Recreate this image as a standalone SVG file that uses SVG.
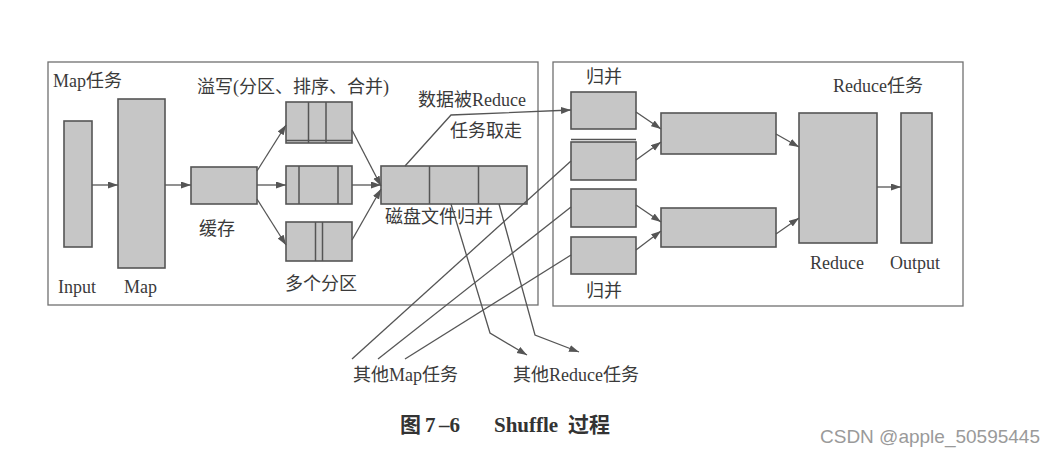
<svg xmlns="http://www.w3.org/2000/svg" width="1063" height="460" viewBox="0 0 1063 460">
<style>
.frame{fill:none;stroke:#707070;stroke-width:1.3}
.box{fill:#c6c6c6;stroke:#555;stroke-width:1.6}
.div{stroke:#555;stroke-width:1.5}
.c{fill:none;stroke:#555;stroke-width:1.3}
.a{marker-end:url(#ah)}
text{font-family:"Liberation Serif","Noto Sans CJK SC",serif;font-size:18px;fill:#3a3a3a}
.cap{font-weight:bold;font-size:21px;fill:#333}
.wm{font-family:"Liberation Sans",Arial,sans-serif;font-size:19px;fill:#9a9a9a}
</style>
<defs>
<marker id="ah" markerUnits="userSpaceOnUse" markerWidth="11" markerHeight="8" refX="10" refY="3.5" orient="auto">
<path d="M0,0 L10,3.5 L0,7 z" fill="#555"/>
</marker>
</defs>
<rect width="1063" height="460" fill="#fff"/>

<g id="map-task">
<rect class="frame" x="48" y="62" width="490" height="243"/>
<text x="53" y="87">Map任务</text>
</g>
<g id="reduce-task">
<rect class="frame" x="553" y="62" width="410" height="244"/>
<text x="833" y="92">Reduce任务</text>
</g>

<g id="input">
<rect class="box" x="64" y="121" width="28" height="126"/>
<text x="58" y="293">Input</text>
</g>
<g id="map">
<rect class="box" x="118" y="99" width="47" height="169"/>
<text x="124" y="293">Map</text>
</g>
<g id="buffer">
<rect class="box" x="191" y="167" width="66" height="37"/>
<text x="199" y="235">缓存</text>
</g>
<g id="spill-label">
<text x="197" y="93">溢写(分区、排序、合并)</text>
</g>
<g id="spill1">
<rect class="box" x="286" y="102" width="66" height="41"/>
<line class="div" x1="308.5" y1="102" x2="308.5" y2="143"/>
<line class="div" x1="326" y1="102" x2="326" y2="143"/>
<line class="div" x1="286" y1="140.5" x2="352" y2="140.5"/>
</g>
<g id="spill2">
<rect class="box" x="286" y="166" width="66" height="38"/>
<line class="div" x1="299" y1="166" x2="299" y2="204"/>
<line class="div" x1="338" y1="166" x2="338" y2="204"/>
</g>
<g id="spill3">
<rect class="box" x="286" y="222" width="66" height="39"/>
<line class="div" x1="315.5" y1="222" x2="315.5" y2="261"/>
<line class="div" x1="322.5" y1="222" x2="322.5" y2="261"/>
<text x="285" y="290">多个分区</text>
</g>
<g id="disk-merge">
<rect class="box" x="381" y="166" width="146" height="38"/>
<line class="div" x1="429.5" y1="166" x2="429.5" y2="204"/>
<line class="div" x1="478.5" y1="166" x2="478.5" y2="204"/>
<text x="385" y="223">磁盘文件归并</text>
</g>
<g id="fetch-label">
<text x="418" y="106">数据被Reduce</text>
<text x="450" y="137">任务取走</text>
</g>

<g id="merge1">
<rect class="box" x="571" y="92" width="65" height="37"/>
<text x="586" y="83">归并</text>
</g>
<g id="merge2">
<rect class="box" x="571" y="142" width="65" height="38"/>
<line class="div" x1="571" y1="139.5" x2="636" y2="139.5"/>
</g>
<g id="merge3">
<rect class="box" x="571" y="189" width="65" height="38"/>
</g>
<g id="merge4">
<rect class="box" x="571" y="237" width="65" height="37"/>
<text x="586" y="297">归并</text>
</g>
<g id="mid1">
<rect class="box" x="661" y="113" width="115" height="41"/>
</g>
<g id="mid2">
<rect class="box" x="661" y="208" width="115" height="39"/>
</g>
<g id="reduce">
<rect class="box" x="799" y="113" width="78" height="130"/>
<text x="810" y="269">Reduce</text>
</g>
<g id="output">
<rect class="box" x="901" y="113" width="31" height="130"/>
<text x="890" y="269">Output</text>
</g>

<g id="other-map">
<text x="353" y="381">其他Map任务</text>
</g>
<g id="other-reduce">
<text x="513" y="381">其他Reduce任务</text>
</g>

<g id="connectors">
<line class="c a" x1="92" y1="185" x2="118" y2="185"/>
<line class="c a" x1="165" y1="185" x2="191" y2="185"/>
<line class="c a" x1="257" y1="171" x2="286" y2="125"/>
<line class="c a" x1="257" y1="185" x2="286" y2="185"/>
<line class="c a" x1="257" y1="199" x2="286" y2="245"/>
<line class="c a" x1="352" y1="130" x2="381" y2="186"/>
<line class="c a" x1="352" y1="185" x2="381" y2="185"/>
<line class="c a" x1="352" y1="240" x2="381" y2="189"/>
<polyline class="c a" points="405,166 451,115 571,110"/>
<line class="c" x1="352" y1="359" x2="571" y2="161"/>
<line class="c" x1="378" y1="359" x2="571" y2="207"/>
<line class="c" x1="405" y1="359" x2="571" y2="255"/>
<polyline class="c a" points="451,204 490,333 527,355"/>
<polyline class="c a" points="499,204 535,335 579,352"/>
<line class="c a" x1="636" y1="112" x2="661" y2="129"/>
<line class="c a" x1="636" y1="160" x2="661" y2="142"/>
<line class="c a" x1="636" y1="205" x2="661" y2="222"/>
<line class="c a" x1="636" y1="250" x2="661" y2="231"/>
<line class="c a" x1="776" y1="134" x2="799" y2="147"/>
<line class="c a" x1="776" y1="234" x2="799" y2="218"/>
<line class="c a" x1="877" y1="187" x2="901" y2="187"/>
</g>

<g id="caption">
<text class="cap" x="400" y="432">图</text>
<text class="cap" x="425" y="432">7</text>
<text class="cap" x="439" y="432">–6</text>
<text class="cap" x="494" y="432">Shuffle</text>
<text class="cap" x="568" y="432">过程</text>
</g>
<text class="wm" x="820" y="443">CSDN @apple_50595445</text>
</svg>
